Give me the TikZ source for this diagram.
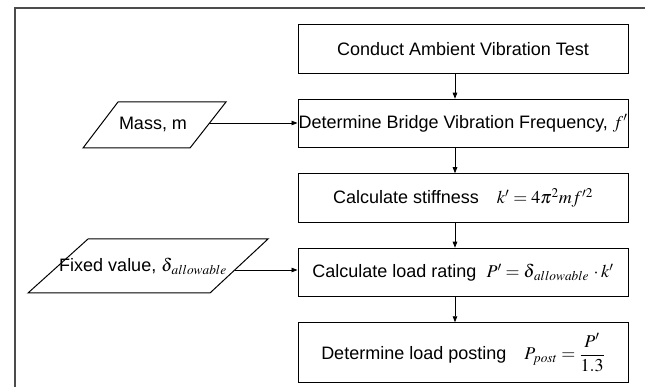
\documentclass[tikz,border=0pt]{standalone}
\usepackage{amsmath}
\usepackage{mathptmx}
\usepackage[no-math]{fontspec}
\setmainfont{Liberation Sans}
\usetikzlibrary{positioning,arrows.meta}

\begin{document}
\begin{tikzpicture}[x=1pt,y=-1pt,
    font=\fontsize{18}{21}\selectfont,
    box/.style={draw, line width=1pt, minimum width=330pt, minimum height=48.5pt, inner sep=0pt},
    data/.style={draw, line width=1pt},
    flow/.style={-{Triangle[length=6pt,width=4.5pt]}, line width=0.8pt},
    frame/.style={draw=black!70, line width=2pt}]
    \useasboundingbox (0,0) rectangle (645,387);

    % Rahmen
    \draw[frame] (14.5,395) -- (14.5,8.5) -- (650,8.5);

    % Ablauf
    \node[box] (test) at (463,49) {Conduct Ambient Vibration Test\hspace{8pt}};
    \node[box, below=25pt of test] (freq) {Determine Bridge Vibration Frequency, $f'$\hspace{18pt}};
    \node[box, below=25pt of freq] (stiff) {Calculate stiffness\quad $k' = 4\pi^2 m f'^2$\hspace{14pt}};
    \node[box, below=25pt of stiff] (rating) {Calculate load rating\ \ $P' = \delta_{\,allowable}\,\cdot k'$\hspace{12pt}};
    \node[box, below=25pt of rating, minimum height=60pt] (post) {Determine load posting\quad $P_{post} = \dfrac{P'}{1.3}$\hspace{44pt}};

    \draw[flow] ([xshift=-8pt]test.south) -- ([xshift=-8pt]freq.north);
    \draw[flow] ([xshift=-8pt]freq.south) -- ([xshift=-8pt]stiff.north);
    \draw[flow] ([xshift=-8pt]stiff.south) -- ([xshift=-8pt]rating.north);
    \draw[flow] ([xshift=-8pt]rating.south) -- ([xshift=-8pt]post.north);

    % Eingaben
    \draw[data] (118,102) -- (226,102) -- (190,148) -- (83,148) -- cycle;
    \node (mass) at (153,124) {Mass, m};
    \coordinate (massR) at (209,123);
    \draw[flow] (massR) -- (massR -| freq.west);

    \draw[data] (88,239) -- (268,239) -- (210,293) -- (28,293) -- cycle;
    \node (fixed) at (143,266) {Fixed value, $\delta_{\,allowable}$};
    \coordinate (fixedR) at (235,270);
    \draw[flow] (fixedR) -- (fixedR -| rating.west);

\end{tikzpicture}
\end{document}
